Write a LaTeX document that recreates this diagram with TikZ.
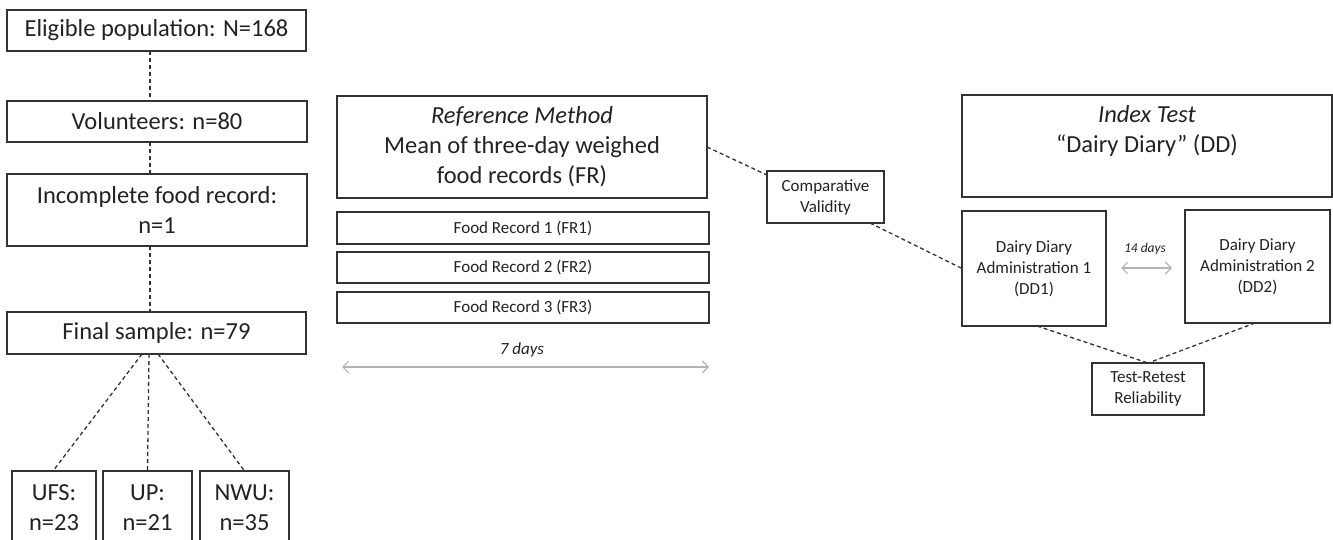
\documentclass[tikz,border=0pt]{standalone}
\usepackage{fontspec}
\setmainfont{Carlito}
\usetikzlibrary{arrows.meta}
\definecolor{ink}{HTML}{222222}
\definecolor{edge}{HTML}{333333}
\definecolor{span}{HTML}{B4B4B4}
\begin{document}
\begin{tikzpicture}[x=1pt,y=-1pt,
  box/.style={draw=edge,line width=1.3pt,inner sep=0pt,outer sep=0pt,
    align=center,text=ink},
  bigtxt/.style={font=\fontsize{24.5}{30}\selectfont},
  smalltxt/.style={font=\fontsize{17}{21}\selectfont},
  link/.style={draw=edge,line width=1.3pt,dash pattern=on 4pt off 3pt},
  spanarrow/.style={draw=span,line width=1.2pt,
    {Straight Barb[length=6pt,width=12pt]}-{Straight Barb[length=6pt,width=12pt]}}
]
\useasboundingbox (0,0) rectangle (1333,540);
\clip (0,0) rectangle (1333,540);

% participant flow
\node[box,bigtxt,minimum width=299,minimum height=41] (elig) at (156.5,30.5) {Eligible population: N=168};
\node[box,bigtxt,minimum width=300,minimum height=41] (vol) at (157,121.5) {Volunteers: n=80};
\node[box,bigtxt,minimum width=300,minimum height=72] (inc) at (157,210) {Incomplete food record:\\n=1};
\node[box,bigtxt,minimum width=299,minimum height=42] (final) at (156.5,333) {Final sample: n=79};
\node[box,bigtxt,minimum width=84,minimum height=74] (ufs) at (54,508) {UFS:\\n=23};
\node[box,bigtxt,minimum width=89,minimum height=74] (up) at (147.5,508) {UP:\\n=21};
\node[box,bigtxt,minimum width=89,minimum height=74] (nwu) at (244.5,508) {NWU:\\n=35};

\draw[link] ([xshift=-6.5pt]elig.south) -- ([xshift=-7pt]vol.north);
\draw[link] ([xshift=-7pt]vol.south) -- ([xshift=-7pt]inc.north);
\draw[link] ([xshift=-7pt]inc.south) -- ([xshift=-6.5pt]final.north);
\draw[link] ([xshift=-14.5pt]final.south) -- ([xshift=-1pt]ufs.north);
\draw[link] ([xshift=-7.5pt]final.south) -- (up.north);
\draw[link] ([xshift=1.5pt]final.south) -- (nwu.north);

% reference method
\node[box,bigtxt,minimum width=370,minimum height=102] (ref) at (522,147)
  {\textit{Reference Method}\\Mean of three-day weighed\\food records (FR)};
\node[box,smalltxt,minimum width=372,minimum height=32] (fr1) at (523,228) {Food Record 1 (FR1)};
\node[box,smalltxt,minimum width=372,minimum height=31] (fr2) at (523,267.5) {Food Record 2 (FR2)};
\node[box,smalltxt,minimum width=372,minimum height=31] (fr3) at (523,307.5) {Food Record 3 (FR3)};
\node[smalltxt,text=ink,inner sep=0pt] (week) at (522,350) {\textit{7 days}};
\coordinate (wkL) at (342,367);
\coordinate (wkR) at (709,367);
\draw[spanarrow] (wkL) -- (wkR);

% comparison
\node[box,smalltxt,minimum width=117,minimum height=52] (cv) at (825.5,197) {Comparative\\Validity};

% index test
\node[box,bigtxt,minimum width=370,minimum height=102] (idx) at (1147,146)
  {\textit{Index Test}\\“Dairy Diary” (DD)\\\phantom{(FR)}};
\node[box,smalltxt,minimum width=144,minimum height=115] (dd1) at (1034,268.5)
  {Dairy Diary\\Administration 1\\(DD1)};
\node[box,smalltxt,minimum width=145,minimum height=113] (dd2) at (1257.5,266.5)
  {Dairy Diary\\Administration 2\\(DD2)};
\node[text=ink,inner sep=0pt,font=\fontsize{13.5}{16}\selectfont] (fortnight) at (1145,249) {\textit{14 days}};
\coordinate (fnL) at (1121,268);
\coordinate (fnR) at (1172,268);
\draw[spanarrow] (fnL) -- (fnR);
\node[box,smalltxt,minimum width=112,minimum height=52] (trr) at (1148,389) {Test-Retest\\Reliability};

\draw[link] (ref.east) -- ([yshift=-4pt]cv.north west);
\draw[link] ([xshift=-14pt]cv.south east) -- (dd1.west);
\draw[link] ([xshift=3pt]dd1.south) -- (trr.north);
\draw[link] ([xshift=-2.5pt]dd2.south) -- (trr.north);
\end{tikzpicture}
\end{document}
